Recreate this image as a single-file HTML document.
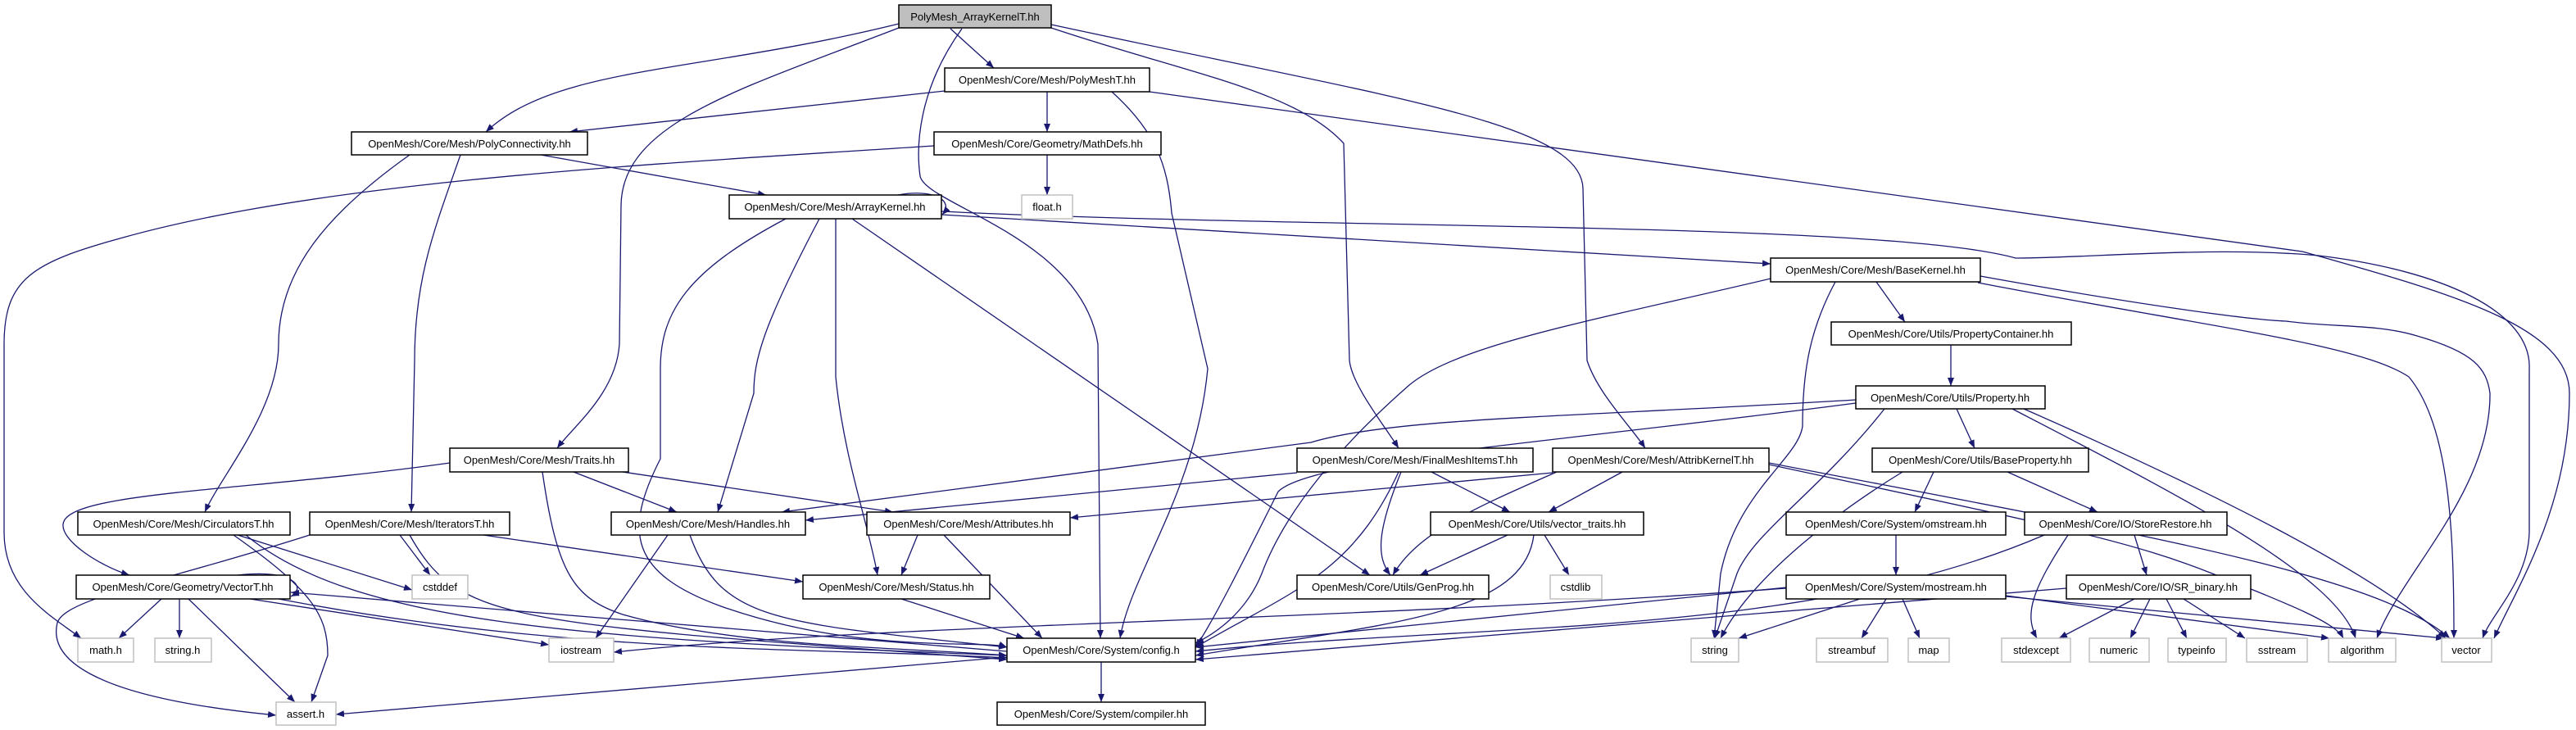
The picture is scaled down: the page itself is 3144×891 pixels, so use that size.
<!DOCTYPE html>
<html><head><meta charset="utf-8"><style>
html,body{margin:0;padding:0;background:#fff;}
svg{display:block;}
.n rect{fill:#fff;stroke:#000;stroke-width:1.5;}
.g rect{fill:#fff;stroke:#c0c0c0;stroke-width:1.5;}
text{font-family:"Liberation Sans",sans-serif;font-size:13px;fill:#000;text-anchor:middle;}
.e path{fill:none;stroke:#191970;stroke-width:1.3;marker-end:url(#a);}
</style></head><body>
<svg width="3144" height="891" viewBox="0 0 3144 891" xmlns="http://www.w3.org/2000/svg">
<defs><marker id="a" markerUnits="userSpaceOnUse" markerWidth="11" markerHeight="8" refX="10" refY="4" orient="auto"><path d="M0,0 L10,4 L0,8 z" fill="#191970"/></marker></defs>
<g class="e">
<path d="M1097,29 C850,90 680,80 593,161"/>
<path d="M1160,35 L1213,83"/>
<path d="M1097,34 C900,110 760,150 758,250 L756,420 C752,480 700,520 680,547"/>
<path d="M1174,35 C1120,110 1118,180 1123,215 C1130,250 1320,290 1340,420 L1343,779"/>
<path d="M1283,34 C1450,90 1580,110 1640,175 L1647,440 C1650,470 1690,520 1707,547"/>
<path d="M1283,30 C1700,120 1930,150 1932,230 L1937,440 C1950,480 1990,520 2008,547"/>
<path d="M1153,111 L695,161"/>
<path d="M1278,112 L1278,161"/>
<path d="M1357,112 C1410,160 1425,200 1430,260 L1474,450 C1460,600 1380,700 1367,779"/>
<path d="M1403,112 L2810,307 C3000,360 3136,400 3136,480 C3136,620 3070,720 3044,779"/>
<path d="M660,189 L935,238"/>
<path d="M500,189 C400,260 340,330 340,420 C340,500 270,580 250,625"/>
<path d="M562,189 C530,280 506,340 506,440 L502,625"/>
<path d="M1278,189 L1278,238"/>
<path d="M1140,178 C800,200 400,220 150,290 C40,320 5,340 5,420 L5,650 C5,720 60,750 99,779"/>
<path d="M1096,238 C1140,230 1165,245 1150,262"/>
<path d="M1149,262 L2161,322"/>
<path d="M1149,258 C1600,280 2300,270 2460,315 C2550,315 2700,300 2830,312 C2980,330 3090,380 3087,450 L3087,650 C3085,710 3040,750 3030,779"/>
<path d="M959,267 C840,330 806,380 806,450 L806,560 C760,650 770,700 880,740 C1050,800 1200,780 1229,790"/>
<path d="M1000,267 C930,400 920,440 920,480 L876,625"/>
<path d="M1020,267 L1020,460 C1030,560 1060,640 1071,702"/>
<path d="M1040,267 L1672,702"/>
<path d="M549,565 C300,600 80,600 77,640 C75,660 120,690 158,702"/>
<path d="M700,576 L826,625"/>
<path d="M760,576 L1090,625"/>
<path d="M662,576 C680,700 700,730 760,750 C900,790 1100,790 1229,800"/>
<path d="M290,653 L503,720"/>
<path d="M285,653 C380,720 400,750 400,800 L380,857"/>
<path d="M300,653 C430,760 700,780 1229,800"/>
<path d="M378,653 C200,710 80,730 70,760 C60,800 100,850 337,873"/>
<path d="M488,653 L525,702"/>
<path d="M590,653 L980,710"/>
<path d="M500,653 C560,760 620,760 1229,805"/>
<path d="M815,653 L727,779"/>
<path d="M842,653 C880,760 950,760 1229,790"/>
<path d="M1120,653 L1100,702"/>
<path d="M1152,653 L1272,779"/>
<path d="M290,702 C360,694 374,718 355,728"/>
<path d="M197,731 L145,779"/>
<path d="M219,731 L219,779"/>
<path d="M230,731 L360,857"/>
<path d="M305,731 L670,787"/>
<path d="M340,731 C700,800 1000,790 1229,803"/>
<path d="M1229,795 L355,723"/>
<path d="M1100,731 L1250,779"/>
<path d="M1229,802 L410,872"/>
<path d="M1344,808 L1344,857"/>
<path d="M2180,718 C1600,760 1100,760 749,796"/>
<path d="M2290,344 L2325,393"/>
<path d="M2161,340 C1950,390 1780,420 1720,470 C1640,540 1570,620 1540,700 C1520,750 1480,775 1459,785"/>
<path d="M2240,344 C2210,400 2200,450 2200,520 C2195,560 2120,600 2100,700 L2092,779"/>
<path d="M2417,337 C2600,370 2740,390 2790,392 C2850,400 2900,395 2950,410 C3020,430 3035,450 3039,480 C3040,600 2930,700 2901,779"/>
<path d="M2414,345 C2700,400 2880,420 2940,460 C2990,520 2995,650 2995,779"/>
<path d="M2381,421 L2381,471"/>
<path d="M2265,488 C1900,510 1700,510 1600,540 L954,625"/>
<path d="M2265,492 C1900,540 1600,560 1560,600 C1520,680 1480,760 1459,790"/>
<path d="M2300,499 C2220,600 2140,650 2120,700 L2093,779"/>
<path d="M2388,499 L2410,547"/>
<path d="M2456,499 C2650,600 2850,700 2875,779"/>
<path d="M2470,499 C2700,600 2900,700 2985,779"/>
<path d="M1583,577 L983,635"/>
<path d="M1747,576 L1843,625"/>
<path d="M1710,576 C1680,650 1680,680 1697,702"/>
<path d="M1707,576 C1650,700 1580,720 1459,790"/>
<path d="M1895,577 L1306,632"/>
<path d="M1980,576 L1890,625"/>
<path d="M1900,576 C1800,620 1730,650 1700,702"/>
<path d="M2159,567 C2500,640 2600,660 2700,700 C2800,740 2850,760 2860,779"/>
<path d="M2159,565 C2600,650 2900,700 2990,779"/>
<path d="M1840,653 L1733,702"/>
<path d="M1885,653 L1915,702"/>
<path d="M1872,653 C1860,750 1700,760 1459,800"/>
<path d="M2322,576 C2250,620 2140,700 2100,779"/>
<path d="M2360,576 L2337,625"/>
<path d="M2450,576 L2560,625"/>
<path d="M2314,653 L2314,702"/>
<path d="M2495,653 C2200,780 1800,760 1459,795"/>
<path d="M2524,653 C2480,720 2470,750 2486,779"/>
<path d="M2605,653 L2620,702"/>
<path d="M2180,717 L1459,790"/>
<path d="M2270,731 L2122,779"/>
<path d="M2302,731 L2272,779"/>
<path d="M2322,731 L2343,779"/>
<path d="M2448,727 L2843,779"/>
<path d="M2448,728 L2983,779"/>
<path d="M2522,718 L1459,805"/>
<path d="M2605,731 L2513,779"/>
<path d="M2624,731 L2600,779"/>
<path d="M2644,731 L2669,779"/>
<path d="M2665,731 L2740,779"/>
</g>
<g class="n">
<rect x="1097" y="6" width="186" height="28" style="fill:#bfbfbf"/><text x="1190" y="25">PolyMesh_ArrayKernelT.hh</text>
<rect x="1153" y="83" width="250" height="29"/><text x="1278" y="102">OpenMesh/Core/Mesh/PolyMeshT.hh</text>
<rect x="429" y="161" width="288" height="28"/><text x="573" y="180">OpenMesh/Core/Mesh/PolyConnectivity.hh</text>
<rect x="1140" y="161" width="277" height="28"/><text x="1278" y="180">OpenMesh/Core/Geometry/MathDefs.hh</text>
<rect x="890" y="238" width="259" height="29"/><text x="1019" y="257">OpenMesh/Core/Mesh/ArrayKernel.hh</text>
<rect x="2161" y="315" width="256" height="29"/><text x="2289" y="334">OpenMesh/Core/Mesh/BaseKernel.hh</text>
<rect x="2235" y="393" width="293" height="28"/><text x="2381" y="412">OpenMesh/Core/Utils/PropertyContainer.hh</text>
<rect x="2265" y="471" width="231" height="28"/><text x="2380" y="490">OpenMesh/Core/Utils/Property.hh</text>
<rect x="549" y="547" width="218" height="29"/><text x="658" y="566">OpenMesh/Core/Mesh/Traits.hh</text>
<rect x="1583" y="547" width="288" height="29"/><text x="1727" y="566">OpenMesh/Core/Mesh/FinalMeshItemsT.hh</text>
<rect x="1895" y="547" width="264" height="29"/><text x="2027" y="566">OpenMesh/Core/Mesh/AttribKernelT.hh</text>
<rect x="2285" y="547" width="264" height="29"/><text x="2417" y="566">OpenMesh/Core/Utils/BaseProperty.hh</text>
<rect x="95" y="625" width="259" height="28"/><text x="224" y="644">OpenMesh/Core/Mesh/CirculatorsT.hh</text>
<rect x="378" y="625" width="244" height="28"/><text x="500" y="644">OpenMesh/Core/Mesh/IteratorsT.hh</text>
<rect x="746" y="625" width="237" height="28"/><text x="864" y="644">OpenMesh/Core/Mesh/Handles.hh</text>
<rect x="1058" y="625" width="248" height="28"/><text x="1182" y="644">OpenMesh/Core/Mesh/Attributes.hh</text>
<rect x="1746" y="625" width="260" height="28"/><text x="1876" y="644">OpenMesh/Core/Utils/vector_traits.hh</text>
<rect x="2180" y="625" width="268" height="28"/><text x="2314" y="644">OpenMesh/Core/System/omstream.hh</text>
<rect x="2471" y="625" width="247" height="28"/><text x="2594" y="644">OpenMesh/Core/IO/StoreRestore.hh</text>
<rect x="93" y="702" width="261" height="29"/><text x="223" y="721">OpenMesh/Core/Geometry/VectorT.hh</text>
<rect x="980" y="702" width="228" height="29"/><text x="1094" y="721">OpenMesh/Core/Mesh/Status.hh</text>
<rect x="1583" y="702" width="234" height="29"/><text x="1700" y="721">OpenMesh/Core/Utils/GenProg.hh</text>
<rect x="2180" y="702" width="268" height="29"/><text x="2314" y="721">OpenMesh/Core/System/mostream.hh</text>
<rect x="2522" y="702" width="225" height="29"/><text x="2634" y="721">OpenMesh/Core/IO/SR_binary.hh</text>
<rect x="1229" y="779" width="230" height="29"/><text x="1344" y="798">OpenMesh/Core/System/config.h</text>
<rect x="1217" y="857" width="254" height="28"/><text x="1344" y="876">OpenMesh/Core/System/compiler.hh</text>
</g>
<g class="g">
<rect x="1247" y="238" width="62" height="29"/><text x="1278" y="257">float.h</text>
<rect x="503" y="702" width="68" height="29"/><text x="537" y="721">cstddef</text>
<rect x="1892" y="702" width="63" height="29"/><text x="1923" y="721">cstdlib</text>
<rect x="95" y="779" width="68" height="29"/><text x="129" y="798">math.h</text>
<rect x="189" y="779" width="69" height="29"/><text x="223" y="798">string.h</text>
<rect x="670" y="779" width="79" height="29"/><text x="709" y="798">iostream</text>
<rect x="2064" y="779" width="58" height="29"/><text x="2093" y="798">string</text>
<rect x="2217" y="779" width="87" height="29"/><text x="2260" y="798">streambuf</text>
<rect x="2329" y="779" width="50" height="29"/><text x="2354" y="798">map</text>
<rect x="2443" y="779" width="84" height="29"/><text x="2485" y="798">stdexcept</text>
<rect x="2550" y="779" width="73" height="29"/><text x="2586" y="798">numeric</text>
<rect x="2646" y="779" width="71" height="29"/><text x="2681" y="798">typeinfo</text>
<rect x="2742" y="779" width="74" height="29"/><text x="2779" y="798">sstream</text>
<rect x="2842" y="779" width="82" height="29"/><text x="2883" y="798">algorithm</text>
<rect x="2980" y="779" width="61" height="29"/><text x="3010" y="798">vector</text>
<rect x="337" y="857" width="73" height="28"/><text x="373" y="876">assert.h</text>
</g>
</svg>
</body></html>
